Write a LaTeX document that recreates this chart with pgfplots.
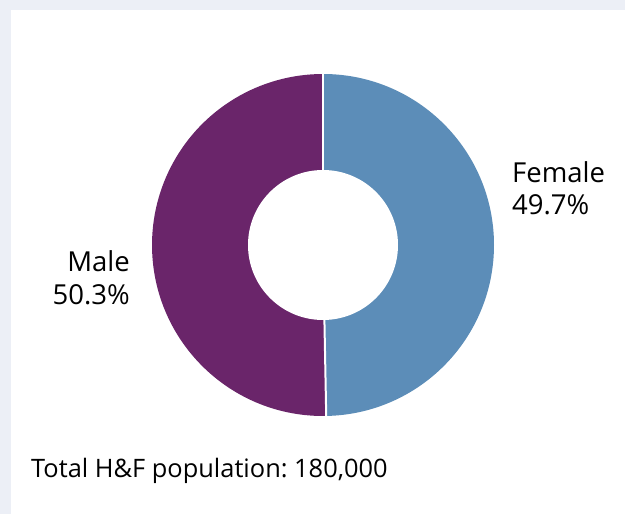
\documentclass[border=0pt]{standalone}
\usepackage{pgfplots}
\pgfplotsset{compat=1.18}
\usepackage{pgfplotstable}
\usepackage{fontspec}
\setmainfont{Open Sans}
\frenchspacing
\usetikzlibrary{calc}
\definecolor{bgcol}{HTML}{ECEFF6}
\definecolor{femcol}{HTML}{5C8DB8}
\definecolor{malecol}{HTML}{6A256A}
\pgfplotstableread{
label value
Female 49.7
Male 50.3
}\datatable
\begin{document}
\begin{tikzpicture}[x=1pt,y=1pt]
\useasboundingbox (0,0) rectangle (625,514);
\fill[bgcol] (0,0) rectangle (625,514);
\fill[white] (11,0) rectangle (625,504);
\pgfplotstablegetelem{0}{value}\of\datatable \let\femval\pgfplotsretval
\pgfplotstablegetelem{1}{value}\of\datatable \let\maleval\pgfplotsretval
\pgfmathsetmacro\aend{90-3.6*\femval}
\begin{axis}[
  at={(152pt,98pt)}, anchor=south west,
  scale only axis, width=342pt, height=342pt,
  xmin=-171, xmax=171, ymin=-171, ymax=171,
  hide axis, clip=false,
]
\addplot[draw=none, forget plot] coordinates {(0,0)};
% Female sector (clockwise from top)
\fill[femcol] (axis cs:0,0) -- ($(axis cs:0,0)+(90:171pt)$) arc[start angle=90, end angle=\aend, radius=171pt] -- cycle;
% Male sector
\fill[malecol] (axis cs:0,0) -- ($(axis cs:0,0)+(\aend:171pt)$) arc[start angle=\aend, end angle=-270, radius=171pt] -- cycle;
% separators
\draw[white, line width=2pt] (axis cs:0,0) -- ($(axis cs:0,0)+(90:172pt)$);
\draw[white, line width=2pt] (axis cs:0,0) -- ($(axis cs:0,0)+(\aend:172pt)$);
% hole
\fill[white] (axis cs:0,0) circle[radius=75pt];
% labels
\node[anchor=base west, inner sep=0pt, font=\fontsize{27.5}{32}\selectfont] at (axis cs:189,62) {Female};
\node[anchor=base west, inner sep=0pt, font=\fontsize{27.5}{32}\selectfont] at (axis cs:189,30) {\femval\%};
\node[anchor=base east, inner sep=0pt, font=\fontsize{27.5}{32}\selectfont] at (axis cs:-193,-27) {Male};
\node[anchor=base east, inner sep=0pt, font=\fontsize{27.5}{32}\selectfont] at (axis cs:-193,-60) {\maleval\%};
\end{axis}
\node[anchor=base west, inner sep=0pt, font=\fontsize{25.4}{30}\selectfont] at (31,36) {Total H\&F population: 180,000};
\end{tikzpicture}
\end{document}
